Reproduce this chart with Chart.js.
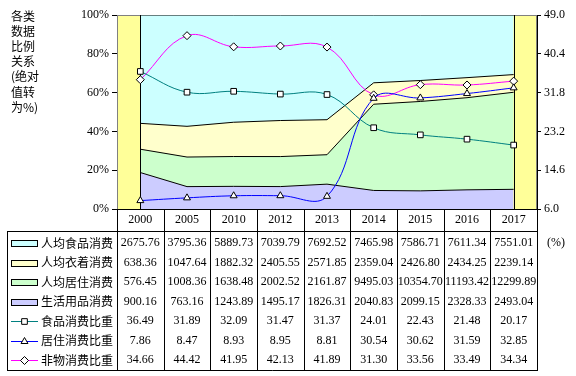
<!DOCTYPE html>
<html>
<head>
<meta charset="utf-8">
<script src="https://cdn.jsdelivr.net/npm/chart.js@4"></script>
<style>
html, body { margin: 0; padding: 0; background: #fff; }
#wrap { width: 576px; height: 376px; }
</style>
</head>
<body>
<div id="wrap"><canvas id="chart" width="576" height="376"></canvas></div>
<script>
const years = ['2000', '2005', '2010', '2012', '2013', '2014', '2015', '2016', '2017'];
const foodSpend = [2675.76, 3795.36, 5889.73, 7039.79, 7692.52, 7465.98, 7586.71, 7611.34, 7551.01];
const clothSpend = [638.36, 1047.64, 1882.32, 2405.55, 2571.85, 2359.04, 2426.80, 2434.25, 2239.14];
const houseSpend = [576.45, 1008.36, 1638.48, 2002.52, 2161.87, 9495.03, 10354.70, 11193.42, 12299.89];
const dailySpend = [900.16, 763.16, 1243.89, 1495.17, 1826.31, 2040.83, 2099.15, 2328.33, 2493.04];
const foodShare = [36.49, 31.89, 32.09, 31.47, 31.37, 24.01, 22.43, 21.48, 20.17];
const houseShare = [7.86, 8.47, 8.93, 8.95, 8.81, 30.54, 30.62, 31.59, 32.85];
const nonMatShare = [34.66, 44.42, 41.95, 42.13, 41.89, 31.30, 33.56, 33.49, 34.34];
const leftTicks = [0, 20, 40, 60, 80, 100];
const rightTicks = [6.0, 14.6, 23.2, 31.8, 40.4, 49.0];

const rowLabels = ['人均食品消费', '人均衣着消费', '人均居住消费', '生活用品消费', '食品消费比重', '居住消费比重', '非物消费比重'];
const titleLines = ['各类', '数据', '比例', '关系', '(绝对', '值转', '为%)'];

const CJK = '"Noto Sans CJK SC", sans-serif';
const SERIF = '"Liberation Serif", "Times New Roman", serif';

// absolute values -> percent of the four categories
const totals = years.map((y, i) => foodSpend[i] + clothSpend[i] + houseSpend[i] + dailySpend[i]);
const toPct = arr => arr.map((v, i) => v / totals[i] * 100);

const areaColors = ['#CCCCFF', '#CCFFCC', '#FFFFCC', '#CCFFFF'];
const lineColors = ['#008080', '#0000FF', '#FF00FF'];
const markers = ['rect', 'triangle', 'rectRot'];

// table rows in display order (food, cloth, house, daily, shares)
const tableRows = [foodSpend, clothSpend, houseSpend, dailySpend, foodShare, houseShare, nonMatShare];
const rowKinds = [
    { type: 'box', color: '#CCFFFF' },
    { type: 'box', color: '#FFFFCC' },
    { type: 'box', color: '#CCFFCC' },
    { type: 'box', color: '#CCCCFF' },
    { type: 'line', color: '#008080', marker: 'rect' },
    { type: 'line', color: '#0000FF', marker: 'triangle' },
    { type: 'line', color: '#FF00FF', marker: 'rectRot' },
];

function areaSet(label, data, color, fill) {
    return {
        label: label,
        data: data,
        yAxisID: 'y',
        backgroundColor: color,
        borderColor: '#000',
        borderWidth: 1,
        pointRadius: 0,
        tension: 0,
        fill: fill,
        order: 1,
    };
}

function lineSet(label, data, color, marker) {
    return {
        label: label,
        data: data,
        yAxisID: 'y1',
        borderColor: color,
        borderWidth: 1,
        backgroundColor: '#fff',
        pointStyle: marker,
        pointRadius: 4,
        pointBorderColor: '#000',
        pointBackgroundColor: '#fff',
        pointBorderWidth: 1,
        tension: 0.4,
        fill: false,
        order: 0,
    };
}

const tablePlugin = {
    id: 'tablePlugin',
    beforeDraw(chart) {
        const { ctx, chartArea: a } = chart;
        ctx.save();
        ctx.fillStyle = '#fff';
        ctx.fillRect(0, 0, chart.width, chart.height);
        ctx.fillStyle = '#FFFF99';
        ctx.fillRect(a.left, a.top, a.right - a.left, a.bottom - a.top);
        ctx.restore();
    },
    beforeDatasetsDraw(chart) {
        const { ctx, chartArea: a } = chart;
        ctx.save();
        ctx.strokeStyle = '#808080';
        ctx.lineWidth = 1;
        ctx.strokeRect(a.left + 0.5, a.top + 0.5, a.right - a.left - 1, a.bottom - a.top);
        ctx.restore();
    },
    afterDatasetDraw(chart, args) {
        if (args.index !== 0) return;
        const { ctx, chartArea: a } = chart;
        const x = chart.scales.x;
        ctx.save();
        ctx.strokeStyle = '#000';
        ctx.lineWidth = 1;
        [0, years.length - 1].forEach(i => {
            const px = Math.round(x.getPixelForValue(i)) + 0.5;
            ctx.beginPath();
            ctx.moveTo(px, a.top);
            ctx.lineTo(px, a.bottom);
            ctx.stroke();
        });
        ctx.restore();
    },
    afterDraw(chart) {
        const { ctx, chartArea: a } = chart;
        const x = chart.scales.x;
        const colW = (a.right - a.left) / years.length;
        const headTop = a.bottom;
        const headBot = 231;
        const tBot = 370;
        const tLeft = 7;
        ctx.save();
        ctx.strokeStyle = '#000';
        ctx.lineWidth = 1;
        ctx.beginPath();
        // x axis line
        ctx.moveTo(a.left, headTop + 0.5);
        ctx.lineTo(a.right + 1, headTop + 0.5);
        // column lines
        for (let k = 0; k <= years.length; k++) {
            const px = Math.round(a.left + k * colW) + 0.5;
            ctx.moveTo(px, headTop);
            ctx.lineTo(px, tBot + 1);
        }
        ctx.moveTo(tLeft + 0.5, headBot + 0.5);
        ctx.lineTo(a.right + 1, headBot + 0.5);
        ctx.moveTo(tLeft + 0.5, tBot + 0.5);
        ctx.lineTo(a.right + 1, tBot + 0.5);
        ctx.moveTo(tLeft + 0.5, headBot);
        ctx.lineTo(tLeft + 0.5, tBot + 1);
        ctx.stroke();

        // years
        ctx.fillStyle = '#000';
        ctx.font = '12px ' + SERIF;
        ctx.textAlign = 'center';
        ctx.textBaseline = 'middle';
        years.forEach((y, i) => ctx.fillText(y, x.getPixelForValue(i), 220));

        // rows
        tableRows.forEach((row, r) => {
            const cy = 243 + r * 19.5;
            ctx.fillStyle = '#000';
            row.forEach((v, i) => {
                ctx.font = '12px ' + SERIF;
                ctx.textAlign = 'center';
                ctx.fillText(v.toFixed(2), x.getPixelForValue(i), cy);
            });
            const kind = rowKinds[r];
            if (kind.type === 'box') {
                ctx.fillStyle = kind.color;
                ctx.fillRect(11, Math.round(cy) - 3, 26, 6);
                ctx.strokeStyle = '#000';
                ctx.strokeRect(11.5, Math.round(cy) - 2.5, 26, 6);
            } else {
                ctx.strokeStyle = kind.color;
                ctx.beginPath();
                ctx.moveTo(11, Math.round(cy) + 0.5);
                ctx.lineTo(38, Math.round(cy) + 0.5);
                ctx.stroke();
                ctx.fillStyle = '#fff';
                ctx.strokeStyle = '#000';
                Chart.helpers.drawPoint(ctx, {
                    pointStyle: kind.marker,
                    radius: 4,
                    borderWidth: 1,
                    rotation: 0,
                }, 24.5, Math.round(cy) + 0.5);
            }
            ctx.fillStyle = '#000';
            ctx.font = '12px ' + CJK;
            ctx.textAlign = 'left';
            ctx.fillText(rowLabels[r], 41, cy);
        });

        // unit label
        ctx.font = '12px ' + SERIF;
        ctx.textAlign = 'left';
        ctx.fillText('(%)', 547, 243);

        // left axis title
        ctx.font = '12px ' + CJK;
        titleLines.forEach((t, i) => ctx.fillText(t, 11, 16 + i * 15.2));
        ctx.restore();
    },
};

new Chart(document.getElementById('chart'), {
    type: 'line',
    data: {
        labels: years,
        datasets: [
            areaSet('生活用品消费', toPct(dailySpend), areaColors[0], 'origin'),
            areaSet('人均居住消费', toPct(houseSpend), areaColors[1], '-1'),
            areaSet('人均衣着消费', toPct(clothSpend), areaColors[2], '-1'),
            areaSet('人均食品消费', toPct(foodSpend), areaColors[3], '-1'),
            lineSet('食品消费比重', foodShare, lineColors[0], markers[0]),
            lineSet('居住消费比重', houseShare, lineColors[1], markers[1]),
            lineSet('非物消费比重', nonMatShare, lineColors[2], markers[2]),
        ],
    },
    options: {
        responsive: false,
        animation: false,
        layout: { padding: { top: 15, bottom: 167, left: 0, right: 0 } },
        plugins: {
            legend: { display: false },
            tooltip: { enabled: false },
        },
        scales: {
            x: {
                type: 'category',
                offset: true,
                display: false,
            },
            y: {
                position: 'left',
                stacked: true,
                min: 0,
                max: 100,
                afterBuildTicks: s => { s.ticks = leftTicks.map(v => ({ value: v })); },
                afterFit: s => { s.width = 117; s.paddingTop = 0; s.paddingBottom = 0; },
                border: { color: '#000', width: 1 },
                grid: { drawOnChartArea: false, drawTicks: true, tickLength: 5, color: '#000' },
                ticks: {
                    color: '#000',
                    padding: 3,
                    font: { family: SERIF, size: 12 },
                    callback: v => v + '%',
                },
            },
            y1: {
                position: 'right',
                min: 6,
                max: 49,
                afterBuildTicks: s => { s.ticks = rightTicks.map(v => ({ value: v })); },
                afterFit: s => { s.width = 39; s.paddingTop = 0; s.paddingBottom = 0; },
                border: { color: '#000', width: 1 },
                grid: { drawOnChartArea: false, drawTicks: true, tickLength: 4, color: '#000' },
                ticks: {
                    color: '#000',
                    padding: 3,
                    font: { family: SERIF, size: 12 },
                    callback: v => v.toFixed(1),
                },
            },
        },
    },
    plugins: [tablePlugin],
});
</script>
</body>
</html>
